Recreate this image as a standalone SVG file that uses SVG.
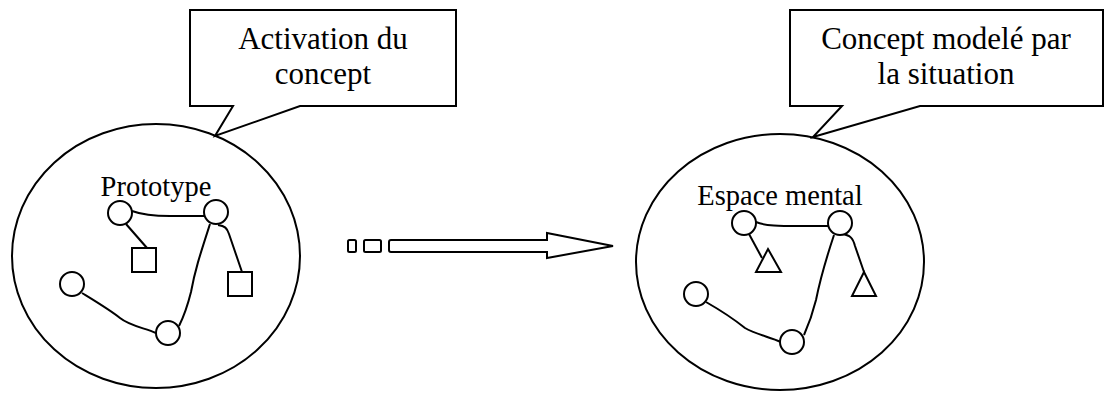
<svg xmlns="http://www.w3.org/2000/svg" width="1112" height="399" viewBox="0 0 1112 399">
<style>
.s{fill:none;stroke:#000;stroke-width:2;stroke-linejoin:miter}
.f{fill:#fff;stroke:#000;stroke-width:2}
.e{fill:none;stroke:#000;stroke-width:2}
.t{font-family:"Liberation Serif","Times New Roman",serif;font-size:31px;fill:#000;text-anchor:middle}
.l{font-family:"Liberation Serif","Times New Roman",serif;font-size:28.5px;fill:#000;text-anchor:middle}
</style>
<rect width="1112" height="399" fill="#fff"/>
<g id="callout-activation">
<path class="f" d="M190,10 H456 V106 H300 L215,136 L233,106 H190 Z"/>
<text class="t" x="323" y="49">Activation du</text>
<text class="t" x="323" y="84">concept</text>
</g>
<g id="callout-modele">
<path class="f" d="M790,10 H1103 V106 H920 L813,137 L842,106 H790 Z"/>
<text class="t" x="946" y="49">Concept modelé par</text>
<text class="t" x="946" y="84">la situation</text>
</g>
<g id="prototype">
<ellipse class="e" cx="156" cy="256" rx="144" ry="132"/>
<text class="l" x="156" y="196">Prototype</text>
</g>
<g id="espace-mental">
<ellipse class="e" cx="780" cy="262" rx="144" ry="128"/>
<text class="l" x="780" y="205">Espace mental</text>
</g>
<g id="connectors">
<path class="s" d="M132,211 C140,214 150,216 170,216 L204,216"/>
<path class="s" d="M126,224 L147,248"/>
<path class="s" d="M218,225 C225,226 227,228 229,234 L242,272"/>
<path class="s" d="M210,224 C200,255 195,270 191,292 C187,308 183,318 179,326"/>
<path class="s" d="M82,293 C95,301 110,310 120,318 C130,326 145,328 156,333"/>
<path class="s" d="M756,222 C765,226 780,226 800,226 L828,226"/>
<path class="s" d="M749,234 L762,258"/>
<path class="s" d="M842,234 C850,235 853,238 855,246 L864,272"/>
<path class="s" d="M834,235 C825,262 820,280 816,300 C812,316 808,326 804,335"/>
<path class="s" d="M706,302 C720,310 735,320 745,328 C755,334 770,337 781,342"/>
</g>
<g id="prototype-nodes">
<circle class="f" cx="120" cy="213" r="12"/>
<circle class="f" cx="216" cy="212" r="12"/>
<circle class="f" cx="72" cy="284" r="12"/>
<circle class="f" cx="168" cy="333" r="12"/>
<rect class="f" x="132" y="248" width="24" height="24"/>
<rect class="f" x="228" y="272" width="24" height="24"/>
</g>
<g id="espace-nodes">
<circle class="f" cx="744" cy="223" r="12"/>
<circle class="f" cx="840" cy="223" r="12"/>
<circle class="f" cx="696" cy="294" r="12"/>
<circle class="f" cx="792" cy="342" r="12"/>
<path class="f" d="M768,249 L781,272 L756,272 Z"/>
<path class="f" d="M864,272 L876,296 L852,296 Z"/>
</g>
<g id="transition-arrow">
<rect class="f" x="348" y="240" width="8" height="12" rx="1.5"/>
<rect class="f" x="364" y="240" width="17" height="12" rx="1.5"/>
<path class="f" d="M391,240 H547 V233 L613,246 L547,258 V252 H391 Q389,252 389,250 V242 Q389,240 391,240 Z"/>
</g>
</svg>
